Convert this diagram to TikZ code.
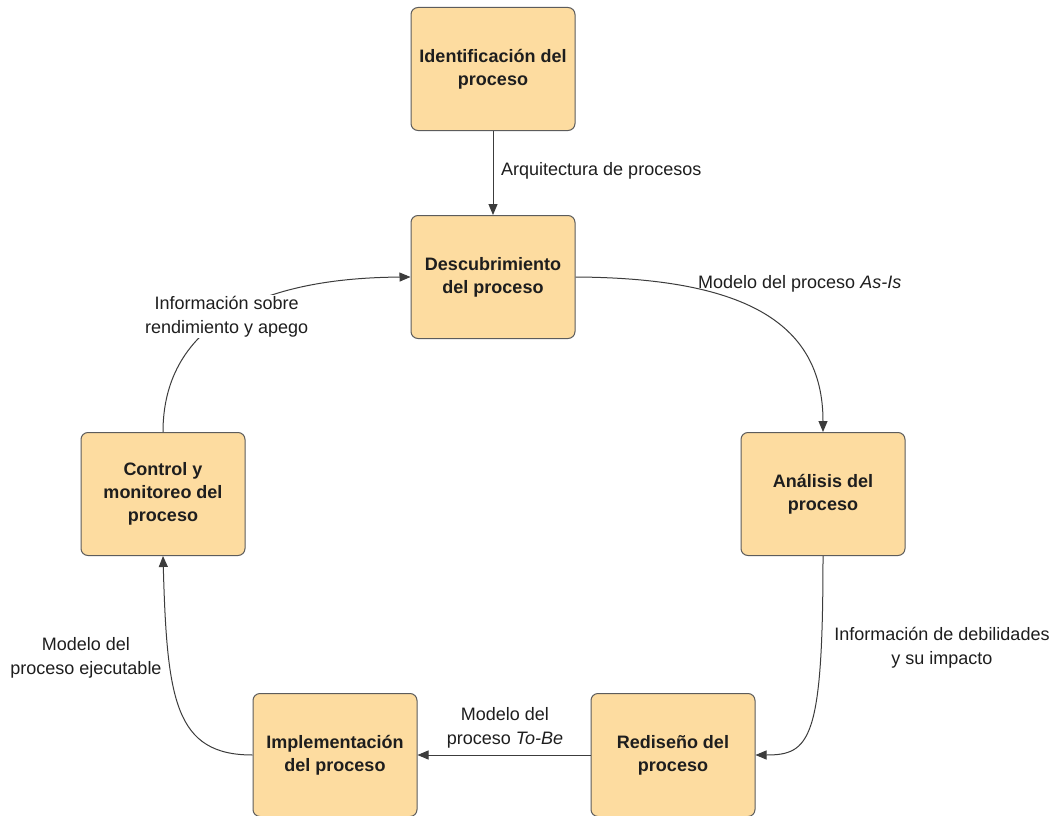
\documentclass[tikz,border=0pt]{standalone}
\usepackage{fontspec}
\setmainfont{Liberation Sans}
\usetikzlibrary{arrows.meta}
\definecolor{boxfill}{HTML}{FDDCA0}
\definecolor{boxline}{HTML}{5C5C5C}
\definecolor{link}{HTML}{3C3C3C}
\definecolor{ink}{HTML}{1E1E1E}
\begin{document}
\begin{tikzpicture}[x=1pt,y=-1pt,
  stage/.style={draw=boxline, line width=1pt, fill=boxfill, rounded corners=7pt,
    minimum width=164pt, minimum height=123pt, inner sep=0pt, align=center,
    text=ink, font=\fontsize{18}{23}\selectfont\bfseries},
  flow/.style={draw=link, line width=1pt, -{Triangle[length=11pt,width=9pt]}},
  note/.style={font=\fontsize{18}{24}\selectfont, align=center, text=ink, inner sep=1pt}]
\useasboundingbox (0,0) rectangle (1058,816);
\fill[white] (0,0) rectangle (1058,816);

% lifecycle stages
\node[stage] (ident)  at (493,69)  {Identificación del\\proceso};
\node[stage] (desc)   at (493,277) {Descubrimiento\\del proceso};
\node[stage] (anal)   at (823,494) {Análisis del\\proceso};
\node[stage] (redis)  at (673,755) {Rediseño del\\proceso};
\node[stage] (impl)   at (335,755) {Implementación\\del proceso};
\node[stage] (ctrl)   at (163,494) {Control y\\monitoreo del\\proceso};

% connectors
\draw[flow] (ident.south) -- (desc.north);
\draw[flow] (desc.east) .. controls (740,278) and (823,320) .. (anal.north);
\draw[flow] (anal.south) .. controls (823,740) and (810,755) .. (redis.east);
\draw[flow] (redis.west) -- (impl.east);
\draw[flow] (impl.west) .. controls (175,755) and (167,700) .. (ctrl.south);
\draw[flow] (ctrl.north) .. controls (163,330) and (250,278) .. (desc.west)
  node[note, fill=white, pos=0.5] (lblfeed) {Información sobre\\rendimiento y apego};

% connector labels
\node[note, anchor=west] (lblarch) at (500,171) {Arquitectura de procesos};
\node[note, anchor=west] (lblasis) at (697,284) {Modelo del proceso \textit{As-Is}};
\node[note] (lblweak) at (942,648) {Información de debilidades\\y su impacto};
\node[note] (lbltobe) at (505,728) {Modelo del\\proceso \textit{To-Be}};
\node[note] (lblexec) at (86,658) {Modelo del\\proceso ejecutable};
\end{tikzpicture}
\end{document}
